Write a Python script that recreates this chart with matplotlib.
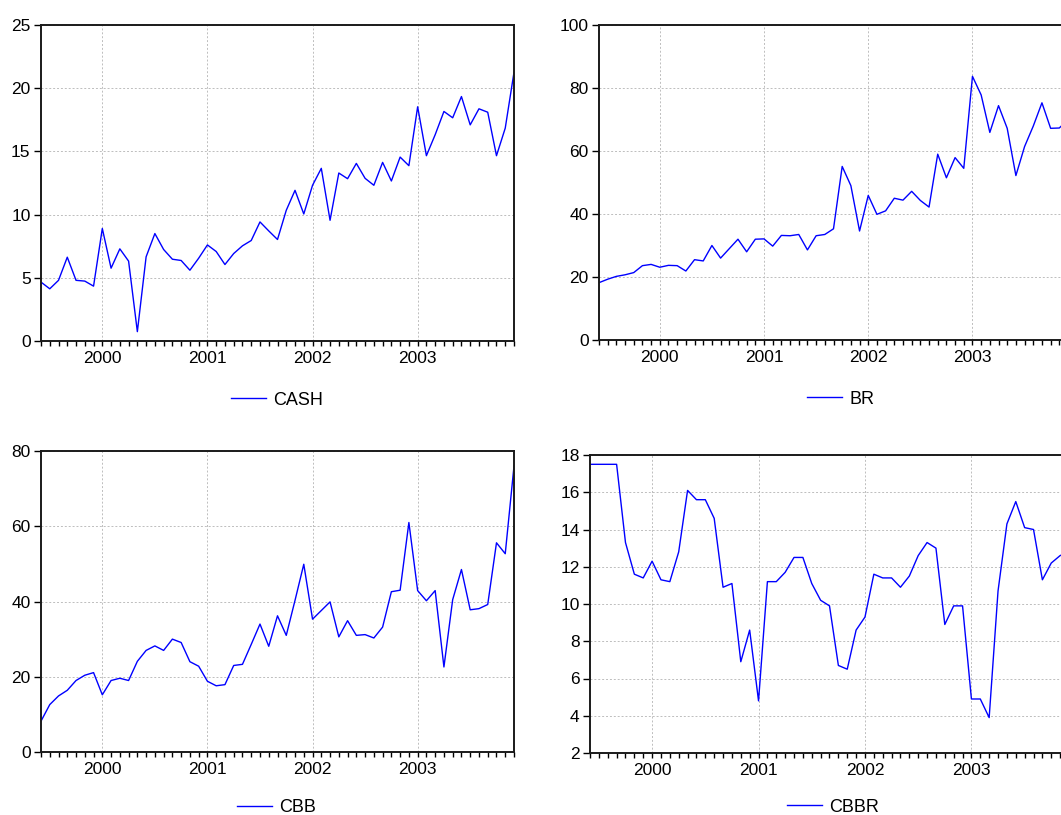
import numpy as np
import pandas as pd
import matplotlib
matplotlib.use("Agg")
import matplotlib.pyplot as plt

plt.rcParams['font.family'] = ['Liberation Sans', 'DejaVu Sans']

# monthly observations, 1999M06 - 2003M12
months = pd.period_range('1999-06', '2003-12', freq='M')

cash = [4.66, 4.13, 4.8, 6.63, 4.8, 4.74, 4.34, 8.9, 5.76, 7.29, 6.32, 0.74,
        6.66, 8.5, 7.24, 6.47, 6.37, 5.6, 6.55, 7.6, 7.08, 6.05, 6.92, 7.53,
        7.95, 9.42, 8.71, 8.03, 10.34, 11.92, 10.05, 12.32, 13.66, 9.55, 13.29,
        12.84, 14.05, 12.87, 12.32, 14.13, 12.66, 14.55, 13.87, 18.53, 14.66,
        16.32, 18.16, 17.66, 19.34, 17.1, 18.37, 18.1, 14.66, 16.84, 21.26]

br = [18.2, 19.3, 20.2, 20.7, 21.4, 23.6, 24.0, 23.1, 23.7, 23.6, 21.9, 25.5,
      25.1, 30.0, 26.0, 29.0, 32.0, 28.0, 32.0, 32.1, 29.8, 33.2, 33.1, 33.5,
      28.6, 33.1, 33.5, 35.3, 55.1, 49.0, 34.6, 45.9, 39.9, 41.0, 45.0, 44.4,
      47.2, 44.3, 42.2, 59.0, 51.5, 57.9, 54.5, 83.7, 77.8, 65.9, 74.4, 67.2,
      52.2, 61.4, 67.9, 75.3, 67.2, 67.3, 70.0]

cbb = [8.2, 12.6, 14.9, 16.4, 19.0, 20.4, 21.1, 15.2, 19.0, 19.6, 19.0, 24.1,
       27.0, 28.2, 27.0, 30.0, 29.1, 24.0, 22.8, 18.8, 17.6, 17.9, 23.0, 23.3,
       28.6, 34.0, 28.1, 36.2, 31.0, 40.3, 49.9, 35.3, 37.6, 39.9, 30.6, 34.9,
       31.0, 31.2, 30.3, 33.2, 42.6, 43.0, 61.0, 42.9, 40.2, 42.9, 22.6, 40.5,
       48.5, 37.8, 38.1, 39.2, 55.6, 52.7, 76.0]

cbbr = [17.5, 17.5, 17.5, 17.5, 13.3, 11.6, 11.4, 12.3, 11.3, 11.2, 12.8, 16.1,
        15.6, 15.6, 14.6, 10.9, 11.1, 6.9, 8.6, 4.8, 11.2, 11.2, 11.7, 12.5,
        12.5, 11.1, 10.2, 9.9, 6.7, 6.5, 8.6, 9.3, 11.6, 11.4, 11.4, 10.9,
        11.5, 12.6, 13.3, 13.0, 8.9, 9.9, 9.9, 4.9, 4.9, 3.9, 10.7, 14.3,
        15.5, 14.1, 14.0, 11.3, 12.2, 12.6, 12.8]

W, H = 1061, 815
fig = plt.figure(figsize=(W / 100, H / 100), dpi=100)


def box(l, t, r, b):
    # pixel edges -> figure fraction rect
    return [l / W, 1 - b / H, (r - l) / W, (b - t) / H]


panels = [
    ("CASH", cash, box(41, 25, 514, 341), (0, 25, 5), (231, 400)),
    ("BR", br, box(599, 25, 1068, 340), (0, 100, 20), (807, 399)),
    ("CBB", cbb, box(41, 451, 514, 752), (0, 80, 20), (237, 808)),
    ("CBBR", cbbr, box(590, 455, 1069, 753), (2, 18, 2), (787, 807)),
]

x = np.arange(len(months))
year_pos = x[months.month == 1]
year_lab = [str(y) for y in months.year[months.month == 1]]

for name, values, rect, (lo, hi, step), (lx, ly) in panels:
    ax = fig.add_axes(rect)
    ax.plot(x, values, color='#0000ff', lw=1.0, label=name)
    ax.set_xlim(0, len(months) - 1)
    ax.set_ylim(lo, hi)
    ax.set_yticks(np.arange(lo, hi + step / 2, step))
    ax.set_xticks(year_pos)
    ax.set_xticklabels(year_lab)
    ax.set_xticks(x, minor=True)
    ax.tick_params(axis='y', direction='out', length=5, width=1.0,
                   labelsize=12.5, pad=2.5)
    ax.tick_params(axis='x', which='both', direction='out', length=3.6,
                   width=1.0, labelsize=12.5, pad=3.5)
    ax.grid(True, which='major', color='#bdbdbd', ls=(0, (2, 2)), lw=0.7)
    for side in ax.spines.values():
        side.set_linewidth(1.4)
        side.set_color('#1a1a1a')
    ax.legend(loc='center left', bbox_to_anchor=(lx / W, 1 - ly / H),
              bbox_transform=fig.transFigure, frameon=False, fontsize=13,
              handlelength=1.95, handletextpad=0.4, borderpad=0,
              borderaxespad=0)

fig.savefig("out.png", dpi=100)
